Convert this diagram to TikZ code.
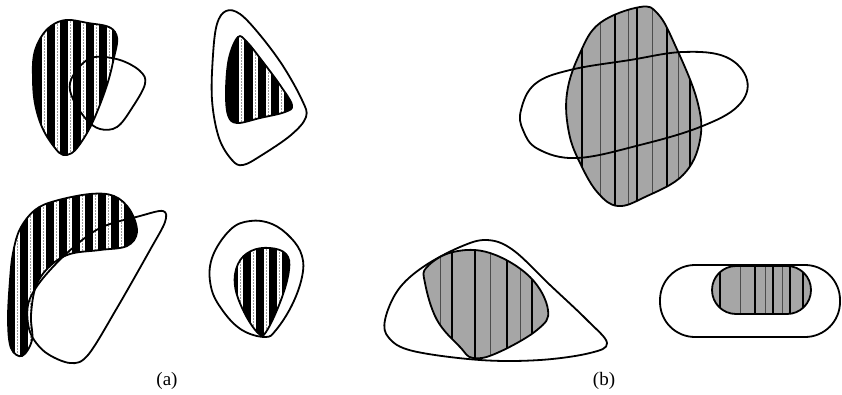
\documentclass[tikz,border=0pt]{standalone}
\usepackage{fontspec}
\setmainfont{Liberation Serif}
\begin{document}
\begin{tikzpicture}[x=1pt,y=-1pt,
  outline/.style={draw=black, line width=1.8pt},
  stripe/.style={line width=5pt, draw=white},
  stripetex/.style={line width=0.5pt, draw=black!40, dash pattern=on 1.5pt off 1.5pt},
  screen/.style={fill=black!35},
  bline/.style={line width=1.6pt, draw=black},
  thinline/.style={line width=0.6pt, draw=black!70},
  lbl/.style={font=\fontsize{19}{21}\selectfont, inner sep=0pt}]
\useasboundingbox (0,0) rectangle (842,394);

% ---------- shape paths ----------
\path[save path=\pAone] plot[smooth cycle, tension=0.7] coordinates
  {(58,22) (88,23) (115,32) (113,62) (101,102) (84,138) (67,155) (52,144) (38,116) (33,80) (37,45)};
\path[save path=\pAoneo] plot[smooth cycle, tension=0.6] coordinates
  {(70,83) (80,66) (95,57) (120,60) (140,71) (145,84) (132,108) (117,127) (100,129) (86,119) (73,99)};
\path[save path=\pAtwo] plot[smooth cycle, tension=0.6] coordinates
  {(226,11) (240,14) (260,35) (283,66) (302,100) (306,117) (291,135) (262,155) (243,165) (232,160) (219,138) (212,100) (213,55) (217,24)};
\path[save path=\pAtwoi] plot[smooth cycle, tension=0.6] coordinates
  {(238,37) (247,42) (263,62) (280,85) (292,105) (285,112) (260,118) (237,123) (228,115) (226,90) (229,58)};
\path[save path=\pAthree] plot[smooth cycle, tension=0.6] coordinates
  {(20,229) (35,210) (55,201) (90,194) (114,196) (130,210) (137,232) (127,246) (100,250) (70,254) (50,266) (36,286) (31,315) (32,340) (22,356) (11,348) (8,320) (10,280) (13,253)};
\path[save path=\pAthreeo] plot[smooth cycle, tension=0.55] coordinates
  {(163,211) (140,216) (100,228) (67,253) (40,282) (28,305) (30,332) (45,352) (70,363) (88,355) (117,308) (150,250) (165,222)};
\path[save path=\pAfour] plot[smooth cycle, tension=0.65] coordinates
  {(230,230) (250,221) (272,224) (291,238) (302,256) (302,277) (292,305) (276,330) (265,337) (242,330) (223,311) (211,287) (212,258)};
\path[save path=\pAfouri] plot[smooth cycle, tension=0.65] coordinates
  {(251,251) (270,248) (286,254) (289,270) (281,300) (266,332) (258,333) (244,312) (235,286) (238,264)};
\path[save path=\pBone] plot[smooth cycle, tension=0.65] coordinates
  {(640,7) (658,14) (675,45) (697,100) (700,140) (683,175) (645,197) (618,206) (598,193) (581,165) (569,133) (567,93) (580,53) (600,23)};
\path[save path=\pBoneo] plot[smooth cycle, tension=0.65] coordinates
  {(521,110) (535,84) (570,70) (630,60) (683,52) (726,57) (747,80) (738,106) (700,127) (640,145) (577,158) (538,149) (523,130)};
\path[save path=\pBtwo] plot[smooth cycle, tension=0.6] coordinates
  {(385,320) (398,290) (423,267) (460,247) (487,240) (513,250) (550,285) (587,320) (607,343) (590,353) (540,360) (480,360) (413,351) (389,338)};
\path[save path=\pBtwoi] plot[smooth cycle, tension=0.65] coordinates
  {(427,267) (453,252) (490,253) (530,277) (548,310) (537,330) (497,353) (473,358) (460,347) (437,320) (425,283)};

% ---------- (a) hatched shapes ----------
\begin{scope}
  \clip[use path=\pAone];
  \fill[black] (0,0) rectangle (842,394);
  \foreach \x in {31,44,57,70,83,96,109} {
    \draw[stripe] (\x,0) -- (\x,394);
    \draw[stripetex] (\x,0) -- (\x,394);}
\end{scope}
\draw[outline, use path=\pAone];
\draw[outline, use path=\pAoneo];

\draw[outline, use path=\pAtwo];
\begin{scope}
  \clip[use path=\pAtwoi];
  \fill[black] (0,0) rectangle (842,394);
  \foreach \x in {241,255,268,281} {
    \draw[stripe] (\x,0) -- (\x,394);
    \draw[stripetex] (\x,0) -- (\x,394);}
\end{scope}
\draw[outline, use path=\pAtwoi];

\begin{scope}
  \clip[use path=\pAthree];
  \fill[black] (0,0) rectangle (842,394);
  \foreach \x in {17,30,43,56,69,82,95,108,121} {
    \draw[stripe] (\x,0) -- (\x,394);
    \draw[stripetex] (\x,0) -- (\x,394);}
\end{scope}
\draw[outline, use path=\pAthree];
\draw[outline, use path=\pAthreeo];

\draw[outline, use path=\pAfour];
\begin{scope}
  \clip[use path=\pAfouri];
  \fill[black] (0,0) rectangle (842,394);
  \foreach \x in {240,253,266,279} {
    \draw[stripe] (\x,0) -- (\x,394);
    \draw[stripetex] (\x,0) -- (\x,394);}
\end{scope}
\draw[outline, use path=\pAfouri];

% ---------- (b) screened shapes ----------
\begin{scope}
  \clip[use path=\pBone];
  \fill[screen] (0,0) rectangle (842,394);
  \foreach \x in {600,628,652,678} \draw[thinline] (\x,0) -- (\x,394);
  \foreach \x in {582,615,637,667,690} \draw[bline] (\x,0) -- (\x,394);
\end{scope}
\draw[outline, use path=\pBone];
\draw[outline, use path=\pBoneo];

\draw[outline, use path=\pBtwo];
\begin{scope}
  \clip[use path=\pBtwoi];
  \fill[screen] (0,0) rectangle (842,394);
  \foreach \x in {440,490,520} \draw[thinline] (\x,0) -- (\x,394);
  \foreach \x in {452,475,507,532} \draw[bline] (\x,0) -- (\x,394);
\end{scope}
\draw[outline, use path=\pBtwoi];

\draw[outline, rounded corners=35pt] (660,265) rectangle (840,337);
\begin{scope}
  \clip[rounded corners=24pt] (712,266) rectangle (811,314);
  \fill[screen] (0,0) rectangle (842,394);
  \foreach \x in {740,765,782} \draw[thinline] (\x,0) -- (\x,394);
  \foreach \x in {720,755,773,790,803} \draw[bline] (\x,0) -- (\x,394);
\end{scope}
\draw[outline, rounded corners=24pt] (712,266) rectangle (811,314);

% ---------- labels ----------
\node[lbl] (la) at (167,381) {(a)};
\node[lbl] (lb) at (604,381) {(b)};
\end{tikzpicture}
\end{document}
